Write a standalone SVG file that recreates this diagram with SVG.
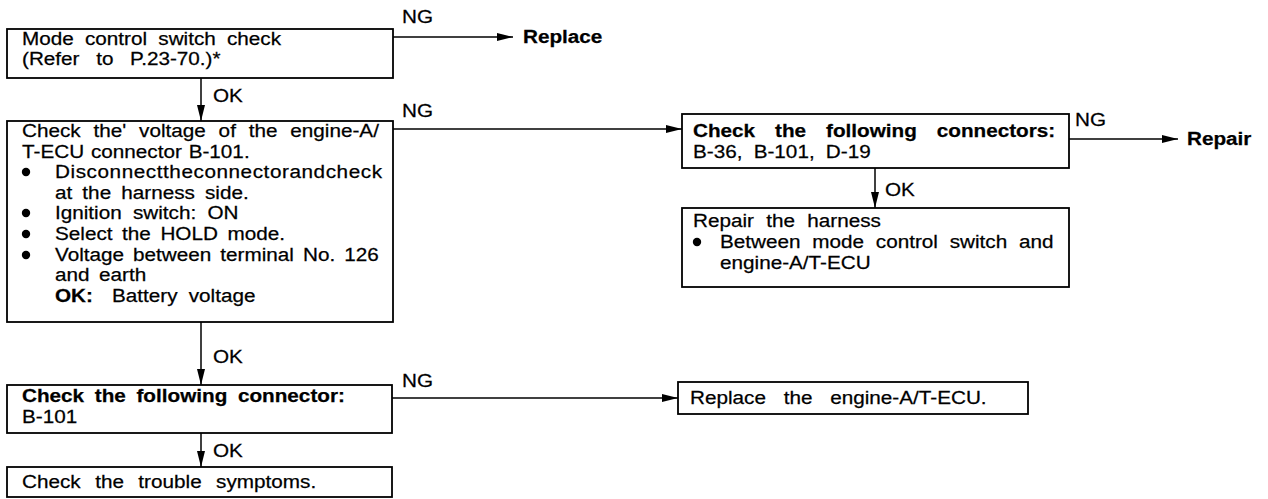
<svg xmlns="http://www.w3.org/2000/svg" width="1268" height="499" viewBox="0 0 1268 499">
<style>
.t{font-family:"Liberation Sans",Arial,sans-serif;font-size:19px;fill:#000;stroke:#000;stroke-width:0.25;word-spacing:4px}
.b{font-weight:bold}
.box{fill:#fff;stroke:#000;stroke-width:1.8}
.ln{stroke:#000;stroke-width:1.5;fill:none}
</style>
<defs>
<marker id="ah" markerUnits="userSpaceOnUse" markerWidth="18" markerHeight="10" refX="16" refY="4" orient="auto">
<path d="M0,0 L16,4 L0,8 Z" fill="#000"/>
</marker>
</defs>
<rect width="1268" height="499" fill="#fff"/>
<g id="connectors">
<path class="ln" d="M393,37 H513" marker-end="url(#ah)"/>
<path class="ln" d="M201,78 V121" marker-end="url(#ah)"/>
<path class="ln" d="M393,129 H682" marker-end="url(#ah)"/>
<path class="ln" d="M201,322 V385" marker-end="url(#ah)"/>
<path class="ln" d="M392,398 H678" marker-end="url(#ah)"/>
<path class="ln" d="M201,433 V467" marker-end="url(#ah)"/>
<path class="ln" d="M1069,139 H1178" marker-end="url(#ah)"/>
<path class="ln" d="M875,168 V208" marker-end="url(#ah)"/>
<text class="t" transform="matrix(1.09 0 0 1 402 23)">NG</text>
<text class="t" transform="matrix(1.09 0 0 1 402 117)">NG</text>
<text class="t" transform="matrix(1.09 0 0 1 402 387)">NG</text>
<text class="t" transform="matrix(1.09 0 0 1 1075 126)">NG</text>
<text class="t" transform="matrix(1.09 0 0 1 213 102)">OK</text>
<text class="t" transform="matrix(1.09 0 0 1 213 363)">OK</text>
<text class="t" transform="matrix(1.09 0 0 1 213 457)">OK</text>
<text class="t" transform="matrix(1.09 0 0 1 885 196)">OK</text>
</g>
<g id="n1">
<rect class="box" x="7" y="29" width="386" height="49"/>
<text class="t" transform="matrix(1.09 0 0 1 22 45)" style="word-spacing:5px">Mode control switch check</text>
<text class="t" transform="matrix(1.09 0 0 1 22 65)" style="word-spacing:10px">(Refer to P.23-70.)*</text>
</g>
<g id="n-replace">
<text class="t b" transform="matrix(1.09 0 0 1 523 43)">Replace</text>
</g>
<g id="n2">
<rect class="box" x="7" y="121" width="386" height="201"/>
<text class="t" transform="matrix(1.09 0 0 1 22 137)" style="word-spacing:6.5px">Check the' voltage of the engine-A/</text>
<text class="t" transform="matrix(1.09 0 0 1 22 158)" style="word-spacing:1px">T-ECU connector B-101.</text>
<circle cx="26" cy="172" r="4.2"/>
<text class="t" transform="matrix(1.09 0 0 1 55 178)" textLength="300" lengthAdjust="spacing">Disconnecttheconnectorandcheck</text>
<text class="t" transform="matrix(1.09 0 0 1 55 199)" style="word-spacing:4px">at the harness side.</text>
<circle cx="26" cy="213" r="4.2"/>
<text class="t" transform="matrix(1.09 0 0 1 55 219)" style="word-spacing:5px">Ignition switch: ON</text>
<circle cx="26" cy="234" r="4.2"/>
<text class="t" transform="matrix(1.09 0 0 1 55 240)" style="word-spacing:3.5px">Select the HOLD mode.</text>
<circle cx="26" cy="255" r="4.2"/>
<text class="t" transform="matrix(1.09 0 0 1 55 261)" style="word-spacing:3px">Voltage between terminal No. 126</text>
<text class="t" transform="matrix(1.09 0 0 1 55 281)" style="word-spacing:3.5px">and earth</text>
<text class="t b" transform="matrix(1.09 0 0 1 55 302)">OK:</text>
<text class="t" transform="matrix(1.09 0 0 1 112 302)" style="word-spacing:5px">Battery voltage</text>
</g>
<g id="n3">
<rect class="box" x="7" y="385" width="385" height="48"/>
<text class="t b" transform="matrix(1.09 0 0 1 22 402)" style="word-spacing:4.5px">Check the following connector:</text>
<text class="t" transform="matrix(1.09 0 0 1 22 423)">B-101</text>
</g>
<g id="n6">
<rect class="box" x="7" y="467" width="385" height="30"/>
<text class="t" transform="matrix(1.09 0 0 1 22 488)" style="word-spacing:8px">Check the trouble symptoms.</text>
</g>
<g id="n4">
<rect class="box" x="682" y="114" width="387" height="54"/>
<text class="t b" transform="matrix(1.09 0 0 1 693 137)" style="word-spacing:13px">Check the following connectors:</text>
<text class="t" transform="matrix(1.09 0 0 1 693 158)" style="word-spacing:5px">B-36, B-101, D-19</text>
</g>
<g id="n-repair">
<text class="t b" transform="matrix(1.09 0 0 1 1187 145)">Repair</text>
</g>
<g id="n5">
<rect class="box" x="682" y="208" width="387" height="79"/>
<text class="t" transform="matrix(1.09 0 0 1 693 227)" style="word-spacing:6px">Repair the harness</text>
<circle cx="697" cy="242" r="4.2"/>
<text class="t" transform="matrix(1.09 0 0 1 720 248)" style="word-spacing:5.5px">Between mode control switch and</text>
<text class="t" transform="matrix(1.09 0 0 1 720 269)">engine-A/T-ECU</text>
</g>
<g id="n7">
<rect class="box" x="678" y="382" width="350" height="32"/>
<text class="t" transform="matrix(1.09 0 0 1 690 404)" style="word-spacing:11px">Replace the engine-A/T-ECU.</text>
</g>
</svg>
